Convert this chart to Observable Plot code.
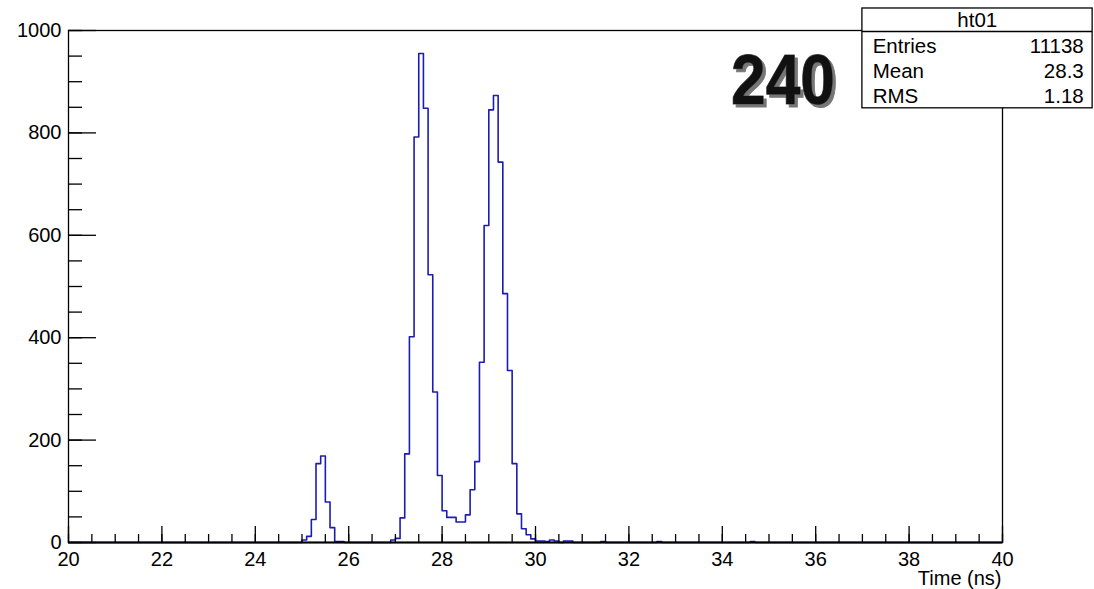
<!DOCTYPE html>
<html><head><meta charset="utf-8">
<script src="https://cdn.jsdelivr.net/npm/d3@7"></script>
<script src="https://cdn.jsdelivr.net/npm/@observablehq/plot@0.6"></script>
<style>
html,body{margin:0;padding:0;background:#fff;}
#chart{width:1094px;height:589px;overflow:hidden;}
</style></head><body><div id="chart"></div>
<script>
// ---- data ----
const binLow = 20, binWidth = 0.1, nBins = 200;
const binStarts = [25.0,25.1,25.2,25.3,25.4,25.5,25.6,25.7,25.8,
  26.9,27.0,27.1,27.2,27.3,27.4,27.5,27.6,27.7,27.8,27.9,
  28.0,28.1,28.2,28.3,28.4,28.5,28.6,28.7,28.8,28.9,
  29.0,29.1,29.2,29.3,29.4,29.5,29.6,29.7,29.8,29.9,
  30.0,30.1,30.2,30.3,30.4,30.6,30.7,31.4,32.6,34.6];
const binCounts = [5,12,45,154,169,79,29,2,2,
  5,8,48,173,402,792,955,848,523,294,131,
  62,49,49,40,40,54,103,158,352,619,
  845,873,743,486,336,154,56,27,15,7,
  3,3,2,5,3,3,3,2,2,2];
const xMajorTicks = [20,22,24,26,28,30,32,34,36,38,40];
const xMinorTicks = [20,20.5,21,21.5,22,22.5,23,23.5,24,24.5,25,25.5,26,26.5,27,27.5,28,28.5,29,29.5,30,30.5,31,31.5,32,32.5,33,33.5,34,34.5,35,35.5,36,36.5,37,37.5,38,38.5,39,39.5,40];
const yMajorTicks = [0,200,400,600,800,1000];
const yMinorTicks = [0,50,100,150,200,250,300,350,400,450,500,550,600,650,700,750,800,850,900,950,1000];
const xTitle = "Time (ns)";
const statsTitle = ["ht01"];
const statsLabels = ["Entries","Mean","RMS"];
const statsValues = ["11138","28.3","1.18"];
const runLabel = ["240"];

// ---- table for the step outline ----
const counts = new Array(nBins).fill(0);
binStarts.forEach((t, i) => { counts[Math.round((t - binLow) / binWidth)] = binCounts[i]; });
const steps = counts.map((c, i) => ({x: binLow + i * binWidth, y: c}));
steps.push({x: binLow + nBins * binWidth, y: counts[nBins - 1]});

const frameH = 512, frameW = 934;
const statRowsY = [969, 920, 871];
const stats = statsLabels.map((l, i) => ({label: l, value: statsValues[i], y: statRowsY[i]}));

const plot = Plot.plot({
  width: 1094, height: 589,
  marginLeft: 68, marginRight: 92, marginTop: 30, marginBottom: 47,
  style: {fontFamily: "'Liberation Sans', Arial, Helvetica, sans-serif", fontSize: "20px", color: "#000", background: "#fff"},
  x: {domain: [20, 40]},
  y: {domain: [0, 1000]},
  marks: [
    Plot.line(steps, {x: "x", y: "y", curve: "step-after", stroke: "#1c1cb0", strokeWidth: 1.6}),
    Plot.frame({stroke: "#000", strokeWidth: 1.3}),
    Plot.ruleY([0], {stroke: "#000", strokeWidth: 2}),
    Plot.ruleX(xMajorTicks, {x: d => d, insetTop: frameH - 16, stroke: "#000", strokeWidth: 1.3}),
    Plot.ruleX(xMinorTicks, {x: d => d, insetTop: frameH - 8, stroke: "#000", strokeWidth: 1.3}),
    Plot.ruleY(yMajorTicks, {y: d => d, insetRight: frameW - 28, stroke: "#000", strokeWidth: 1.3}),
    Plot.ruleY(yMinorTicks, {y: d => d, insetRight: frameW - 14, stroke: "#000", strokeWidth: 1.3}),
    Plot.axisX({ticks: xMajorTicks, tickSize: 0, tickPadding: 9, tickFormat: d => String(d), fontSize: 20, label: null}),
    Plot.axisY({ticks: yMajorTicks, tickSize: 0, tickPadding: 7, tickFormat: d => String(d), fontSize: 20, label: null}),
    Plot.text([xTitle], {frameAnchor: "bottom-right", text: d => d, textAnchor: "end", dx: -1, dy: 42, fontSize: 20}),
    // stats box
    Plot.rect([0], {x1: 37.0, x2: 41.93, y1: 848, y2: 1043, fill: "#fff", stroke: "#000", strokeWidth: 1.3}),
    Plot.ruleY([998], {x1: 37.0, x2: 41.93, stroke: "#000", strokeWidth: 1.3}),
    Plot.text(statsTitle, {x: 39.46, y: 1019.5, text: d => d, fontSize: 20.5, textAnchor: "middle"}),
    Plot.text(stats, {x: 37.22, y: "y", text: "label", fontSize: 20.5, textAnchor: "start"}),
    Plot.text(stats, {x: 41.74, y: "y", text: "value", fontSize: 20.5, textAnchor: "end"}),
    // big run number (shadow added as a filter below)
    Plot.text(runLabel, {x: 35.3, y: 900, text: d => d, fontSize: 70, fontWeight: "bold", fill: "#111", stroke: "#555", strokeWidth: 1})
  ]
});
d3.select(plot).selectAll("text").filter(function(){ return this.textContent === "240"; })
  .attr("textLength", 104).attr("lengthAdjust", "spacingAndGlyphs")
  .style("filter", "drop-shadow(3px 3px 0 #777)");
document.getElementById("chart").appendChild(plot);
</script></body></html>
